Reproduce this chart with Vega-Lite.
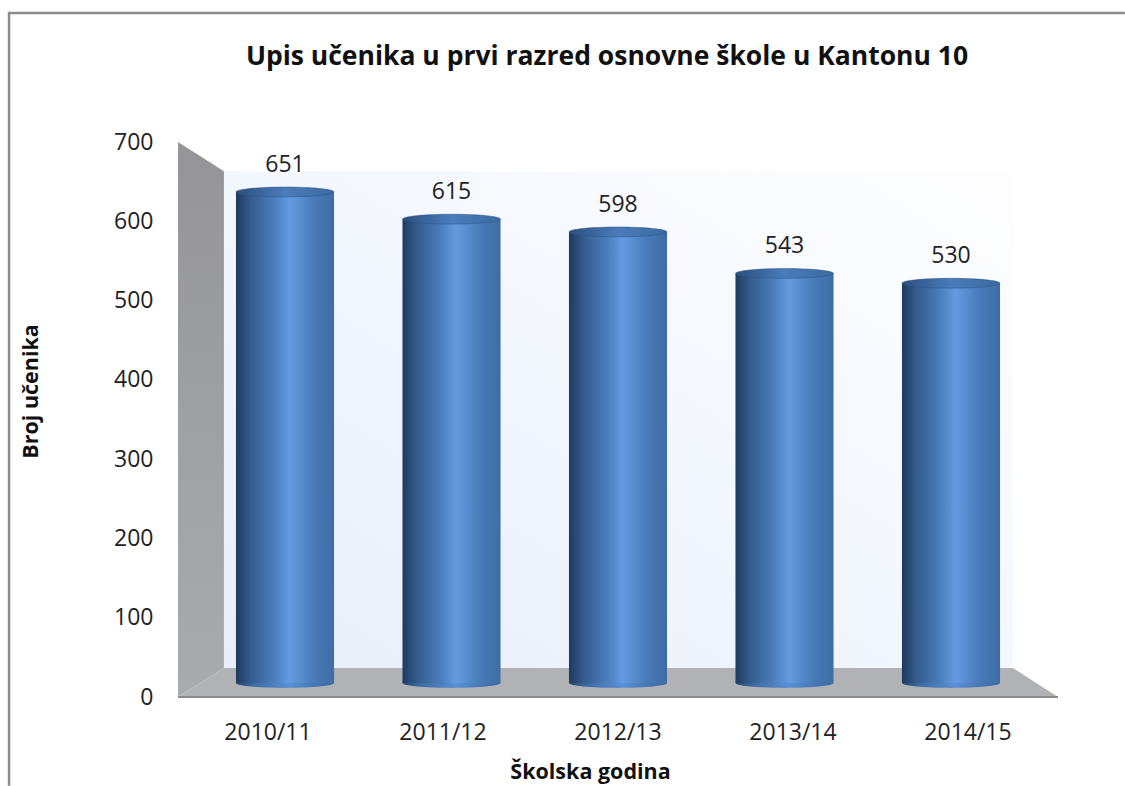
{
"$schema":"https://vega.github.io/schema/vega-lite/v6.json",
"width":880,"height":555,
"autosize":{"type":"none"},
"padding":{"left":178,"top":142,"right":67,"bottom":89},
"background":"white",
"title":{"text":"Upis učenika u prvi razred osnovne škole u Kantonu 10","font":"Open Sans","fontSize":26.5,"fontWeight":"bold","color":"#111111","anchor":"middle","offset":-62,"dx":-11},
"config":{"view":{"stroke":null},"font":"Open Sans"},
"datasets":{
"godine":[{"godina":"2010/11","broj":651},{"godina":"2011/12","broj":615},{"godina":"2012/13","broj":598},{"godina":"2013/14","broj":543},{"godina":"2014/15","broj":530}],
"zid":[{"u":0.261,"gore":663,"dolje":36.6},{"u":4.744,"gore":663,"dolje":36.6}],
"bok":[{"u":0,"gore":700,"dolje":0},{"u":0.261,"gore":663,"dolje":36.6}],
"pod":[{"u":0,"gore":0,"dolje":0},{"u":0.261,"gore":36.6,"dolje":0},{"u":4.744,"gore":36.6,"dolje":0},{"u":5,"gore":0,"dolje":0}],
"okvir":[{"korak":1,"u":-0.96,"v":-112},{"korak":2,"u":-0.96,"v":862.6},{"korak":3,"u":5.38,"v":862.6}]
},
"layer":[
{"data":{"name":"okvir"},"mark":{"type":"line","stroke":"#8c8c8c","strokeWidth":2.5,"clip":false},
 "encoding":{"x":{"field":"u","type":"quantitative","scale":{"domain":[0,5]},"axis":null},"y":{"field":"v","type":"quantitative","scale":{"domain":[0,700]},"axis":null},"order":{"field":"korak"}}},
{"data":{"name":"zid"},"mark":{"type":"area","fill":{"gradient":"linear","x1":0,"y1":1,"x2":1,"y2":0,"stops":[{"offset":0,"color":"#e8edf9"},{"offset":0.45,"color":"#f2f6fe"},{"offset":1,"color":"#fefeff"}]}},
 "encoding":{"x":{"field":"u","type":"quantitative","scale":{"domain":[0,5]},"axis":null},"y":{"field":"gore","type":"quantitative","scale":{"domain":[0,700]},"axis":null},"y2":{"field":"dolje"}}},
{"data":{"name":"bok"},"mark":{"type":"area","fill":{"gradient":"linear","x1":0,"y1":0,"x2":0,"y2":1,"stops":[{"offset":0,"color":"#959599"},{"offset":1,"color":"#a9abae"}]}},
 "encoding":{"x":{"field":"u","type":"quantitative","scale":{"domain":[0,5]},"axis":null},"y":{"field":"gore","type":"quantitative","scale":{"domain":[0,700]},
 "axis":{"values":[0,100,200,300,400,500,600,700],"domain":false,"ticks":false,"grid":false,"labelFont":"Open Sans","labelFontSize":23,"labelColor":"#222222","labelPadding":25,"title":"Broj učenika","titleFont":"Open Sans","titleFontSize":21.5,"titleFontWeight":"bold","titleColor":"#111111","titlePadding":71,"titleY":249}},"y2":{"field":"dolje"}}},
{"data":{"name":"pod"},"mark":{"type":"area","fill":"#b0b2b6"},
 "encoding":{"x":{"field":"u","type":"quantitative","scale":{"domain":[0,5]},"axis":null},"y":{"field":"gore","type":"quantitative","scale":{"domain":[0,700]},"axis":null},"y2":{"field":"dolje"}}},
{"data":{"name":"pod"},"mark":{"type":"line","stroke":"#8a8a8a","strokeWidth":2},
 "encoding":{"x":{"field":"u","type":"quantitative","scale":{"domain":[0,5]},"axis":null},"y":{"field":"dolje","type":"quantitative","scale":{"domain":[0,700]},"axis":null}}},
{"data":{"name":"godine"},"mark":{"type":"point","filled":true,"opacity":1,"size":9604,"shape":"M-1,0A1,0.1 0 1 1 1,0A1,0.1 0 1 1 -1,0Z","fill":{"gradient":"linear","x1":0,"x2":1,"y1":0,"y2":0,"stops":[{"offset":0,"color":"#24466f"},{"offset":0.2,"color":"#3f6ea6"},{"offset":0.55,"color":"#5b90d4"},{"offset":0.8,"color":"#4677b4"},{"offset":1,"color":"#3a6aa3"}]}},
 "encoding":{"x":{"field":"godina","type":"nominal","scale":{"type":"band","range":[23.75,856.25],"paddingInner":0.411,"paddingOuter":0.2055},"axis":null},"y":{"datum":0,"type":"quantitative","scale":{"domain":[0,700],"range":[541,13]},"axis":null}}},
{"data":{"name":"godine"},"mark":{"type":"bar","fill":{"gradient":"linear","x1":0,"x2":1,"y1":0,"y2":0,"stops":[{"offset":0,"color":"#1f3a5e"},{"offset":0.15,"color":"#345c8d"},{"offset":0.38,"color":"#4a7cba"},{"offset":0.55,"color":"#659bde"},{"offset":0.78,"color":"#4a7cba"},{"offset":1,"color":"#3e6ca5"}]}},
 "encoding":{"x":{"field":"godina","type":"nominal","scale":{"type":"band","range":[23.75,856.25],"paddingInner":0.411,"paddingOuter":0.2055},"axis":null},"y":{"field":"broj","type":"quantitative","stack":null,"scale":{"domain":[0,700],"range":[541,13]},"axis":null},"y2":{"datum":0}}},
{"data":{"name":"godine"},"mark":{"type":"point","filled":true,"opacity":1,"size":9604,"shape":"M-1,0A1,0.1 0 1 1 1,0A1,0.1 0 1 1 -1,0Z","stroke":"#2c5382","strokeWidth":0.5,"fill":{"gradient":"linear","x1":0,"x2":1,"y1":0,"y2":0,"stops":[{"offset":0,"color":"#2a4f7e"},{"offset":0.5,"color":"#4a7cba"},{"offset":1,"color":"#3a6aa0"}]}},
 "encoding":{"x":{"field":"godina","type":"nominal","scale":{"type":"band","range":[23.75,856.25],"paddingInner":0.411,"paddingOuter":0.2055},"axis":null},"y":{"field":"broj","type":"quantitative","scale":{"domain":[0,700],"range":[541,13]},"axis":null}}},
{"data":{"name":"godine"},"mark":{"type":"text","font":"Open Sans","fontSize":23,"color":"#222222","dy":-27,"baseline":"middle"},
 "encoding":{"x":{"field":"godina","type":"nominal","scale":{"type":"band","range":[23.75,856.25],"paddingInner":0.411,"paddingOuter":0.2055},"axis":null},"y":{"field":"broj","type":"quantitative","scale":{"domain":[0,700],"range":[541,13]},"axis":null},"text":{"field":"broj"}}},
{"data":{"name":"godine"},"mark":{"type":"tick","opacity":0},
 "encoding":{"x":{"field":"godina","type":"nominal","scale":{"type":"band","range":[2.5,877.5]},"axis":{"labelAngle":0,"domain":false,"ticks":false,"labelFont":"Open Sans","labelFontSize":23,"labelColor":"#222222","labelPadding":24,"title":"Školska godina","titleFont":"Open Sans","titleFontSize":21.5,"titleFontWeight":"bold","titleColor":"#111111","titlePadding":17,"titleX":412}},"y":{"datum":0,"type":"quantitative","scale":{"domain":[0,700]},"axis":null}}}
],
"resolve":{"scale":{"x":"independent","y":"independent"},"axis":{"x":"independent","y":"independent"}}
}
